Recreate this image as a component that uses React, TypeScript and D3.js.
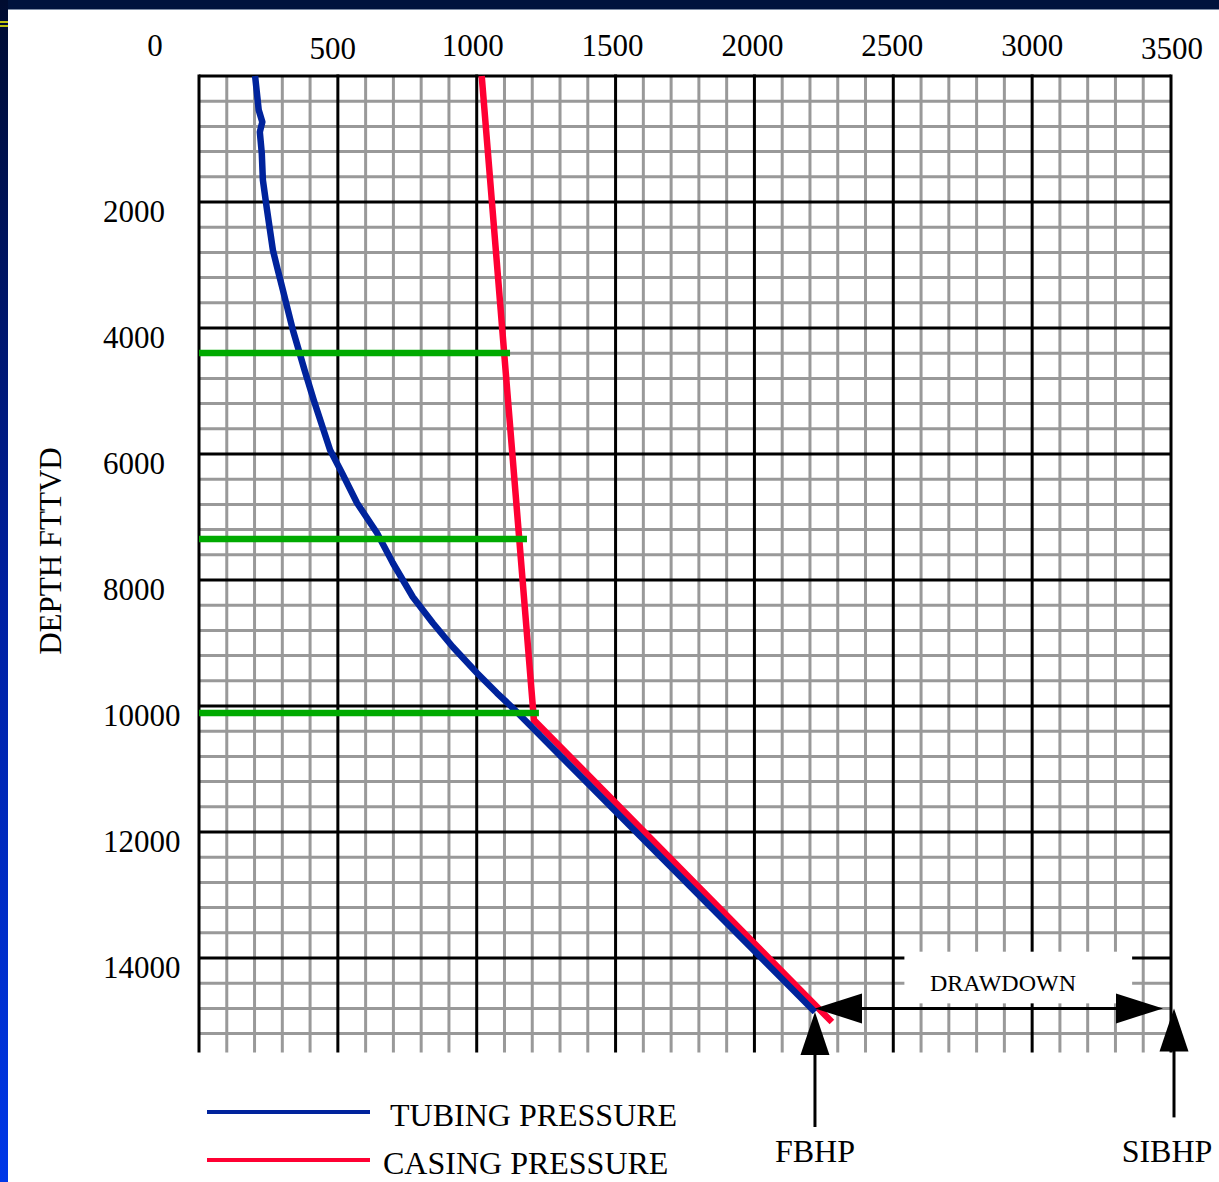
import React, {useEffect, useRef} from 'react'
import * as d3 from 'd3'

// tubing pressure curve, [psi, ft]
const tubingPressure = [
  [202, 0], [215, 540], [228, 730], [219, 889], [226, 1222], [230, 1651],
  [245, 2127], [266, 2762], [281, 3032], [302, 3397], [338, 4032], [380, 4667],
  [413, 5143], [472, 5937], [515, 6302], [569, 6778], [641, 7254], [698, 7730],
  [770, 8270], [842, 8683], [914, 9063], [1001, 9476], [1073, 9794], [1130, 10032],
  [2218, 14857],
];

// casing pressure curve, [psi, ft]
const casingPressure = [
  [1018, 0], [1206, 10222], [2279, 15016],
];

// green valve lines, [depth, pressure at casing]
const valves = [
  [4397, 1120], [7349, 1181], [10111, 1224],
];

const xTicks = [0, 500, 1000, 1500, 2000, 2500, 3000, 3500];
const yTicks = [2000, 4000, 6000, 8000, 10000, 12000, 14000];

const fbhp = 2218;
const fbhpDepth = 14857;
const sibhp = 3500;
const drawdownDepth = 14800;

const W = 1219;
const H = 1182;
const FONT = '"Liberation Serif", "Times New Roman", serif';

export default function App() {
  const ref = useRef(null);

  useEffect(() => {
    const svg = d3.select(ref.current);
    svg.selectAll('*').remove();

    const x = d3.scaleLinear().domain([0, 3500]).range([199, 1171]);
    const y = d3.scaleLinear().domain([0, 15500]).range([76, 1052.5]);

    // frame
    const grad = svg.append('defs').append('linearGradient')
      .attr('id', 'leftband').attr('x1', 0).attr('y1', 0).attr('x2', 0).attr('y2', 1);
    grad.append('stop').attr('offset', '0%').attr('stop-color', '#000c30');
    grad.append('stop').attr('offset', '50%').attr('stop-color', '#0020a0');
    grad.append('stop').attr('offset', '100%').attr('stop-color', '#0038e8');

    svg.append('rect').attr('width', W).attr('height', H).attr('fill', '#fff');
    svg.append('rect').attr('width', W).attr('height', 9).attr('fill', '#00133d');
    svg.append('rect').attr('width', 8).attr('height', H).attr('fill', 'url(#leftband)');
    svg.append('line').attr('x1', 8).attr('x2', W).attr('y1', 9.5).attr('y2', 9.5)
      .style('stroke', '#7f8ea6').style('stroke-width', 1);
    [22, 26].forEach(v => {
      svg.append('line').attr('x1', 0).attr('x2', 8).attr('y1', v).attr('y2', v)
        .style('stroke', '#ffff00').style('stroke-width', 1.5);
    });

    const grid = svg.append('g');
    const [d0, d1] = y.domain();

    // minor grid
    grid.selectAll('.vminor')
      .data(d3.range(100, 3500, 100).filter(v => v % 500 !== 0))
      .enter().append('line')
      .attr('x1', d => x(d)).attr('x2', d => x(d))
      .attr('y1', y(d0)).attr('y2', y(d1))
      .style('stroke', '#999').style('stroke-width', 3);

    grid.selectAll('.hminor')
      .data(d3.range(400, 15201, 400).filter(v => v % 2000 !== 0))
      .enter().append('line')
      .attr('x1', x(0)).attr('x2', x(3500))
      .attr('y1', d => y(d)).attr('y2', d => y(d))
      .style('stroke', '#999').style('stroke-width', 3);

    // major grid
    grid.selectAll('.vmajor')
      .data(xTicks)
      .enter().append('line')
      .attr('x1', d => x(d)).attr('x2', d => x(d))
      .attr('y1', y(d0) - 1.5).attr('y2', y(d1))
      .style('stroke', '#000').style('stroke-width', 3);

    grid.selectAll('.hmajor')
      .data([0, ...yTicks])
      .enter().append('line')
      .attr('x1', x(0)).attr('x2', x(3500))
      .attr('y1', d => y(d)).attr('y2', d => y(d))
      .style('stroke', '#000').style('stroke-width', 3);

    // tick labels (the 0 sits well left of the axis in the original)
    svg.append('g').selectAll('text')
      .data(xTicks)
      .enter().append('text')
      .attr('x', d => d === 0 ? x(d) - 44 : x(d) - 6 + d / 500)
      .attr('y', (d, i) => (i === 1 || i === 7) ? 59 : 56)
      .attr('text-anchor', 'middle')
      .style('font-family', FONT).style('font-size', '31px')
      .text(d => d);

    svg.append('g').selectAll('text')
      .data(yTicks)
      .enter().append('text')
      .attr('x', 103)
      .attr('y', d => y(d) + 20)
      .style('font-family', FONT).style('font-size', '31px')
      .text(d => d);

    svg.append('text')
      .attr('transform', 'translate(61, 551) rotate(-90)')
      .attr('text-anchor', 'middle')
      .style('font-family', FONT).style('font-size', '31px')
      .text('DEPTH FTTVD');

    // curves
    const line = d3.line().x(d => x(d[0])).y(d => y(d[1]));

    svg.append('path')
      .attr('d', line(casingPressure))
      .style('fill', 'none').style('stroke', '#ff0033').style('stroke-width', 6.5);

    svg.append('path')
      .attr('d', line(tubingPressure))
      .style('fill', 'none').style('stroke', '#00239c').style('stroke-width', 6.5)
      .style('stroke-linejoin', 'round');

    svg.append('g').selectAll('line')
      .data(valves)
      .enter().append('line')
      .attr('x1', x(0)).attr('x2', d => x(d[1]))
      .attr('y1', d => y(d[0])).attr('y2', d => y(d[0]))
      .style('stroke', '#00aa00').style('stroke-width', 6.5);

    // drawdown annotation
    svg.append('rect')
      .attr('x', x(2540)).attr('y', y(13900))
      .attr('width', x(3360) - x(2540)).attr('height', y(14720) - y(13900))
      .attr('fill', '#fff');

    svg.append('text')
      .attr('x', x(2895)).attr('y', y(14400) + 8)
      .attr('text-anchor', 'middle')
      .style('font-family', FONT).style('font-size', '24px')
      .text('DRAWDOWN');

    const ay = y(drawdownDepth);
    const xl = x(fbhp);
    const xr = x(sibhp) - 8;
    svg.append('line')
      .attr('x1', xl + 30).attr('x2', xr - 30).attr('y1', ay).attr('y2', ay)
      .style('stroke', '#000').style('stroke-width', 3);
    svg.append('path')
      .attr('d', `M${xl},${ay} L${xl + 47},${ay - 15} L${xl + 47},${ay + 15} Z`)
      .attr('fill', '#000');
    svg.append('path')
      .attr('d', `M${xr},${ay} L${xr - 47},${ay - 15} L${xr - 47},${ay + 15} Z`)
      .attr('fill', '#000');

    // FBHP / SIBHP arrows
    const upArrow = (px, tip, len) => {
      svg.append('line')
        .attr('x1', px).attr('x2', px).attr('y1', tip + 30).attr('y2', tip + len)
        .style('stroke', '#000').style('stroke-width', 3);
      svg.append('path')
        .attr('d', `M${px},${tip} L${px - 14.5},${tip + 43} L${px + 14.5},${tip + 43} Z`)
        .attr('fill', '#000');
    };
    upArrow(x(fbhp), y(fbhpDepth), 115);
    upArrow(x(sibhp) + 3, y(drawdownDepth), 109);

    svg.append('text')
      .attr('x', x(fbhp)).attr('y', 1162)
      .attr('text-anchor', 'middle')
      .style('font-family', FONT).style('font-size', '32px')
      .text('FBHP');
    svg.append('text')
      .attr('x', x(sibhp) - 4).attr('y', 1162)
      .attr('text-anchor', 'middle')
      .style('font-family', FONT).style('font-size', '32px')
      .text('SIBHP');

    // legend
    const legend = [
      {label: 'TUBING PRESSURE', color: '#00239c', ly: 1112, tx: 390},
      {label: 'CASING PRESSURE', color: '#ff0033', ly: 1160, tx: 383},
    ];
    const lg = svg.append('g').selectAll('g').data(legend).enter().append('g');
    lg.append('line')
      .attr('x1', 207).attr('x2', 370)
      .attr('y1', d => d.ly).attr('y2', d => d.ly)
      .style('stroke', d => d.color).style('stroke-width', 4);
    lg.append('text')
      .attr('x', d => d.tx).attr('y', d => d.ly + 14)
      .style('font-family', FONT).style('font-size', '32px')
      .text(d => d.label);
  }, []);

  return (
    <svg ref={ref} width={W} height={H}
         style={{position: 'absolute', left: 0, top: 0, display: 'block'}}>
    </svg>
  )
}
